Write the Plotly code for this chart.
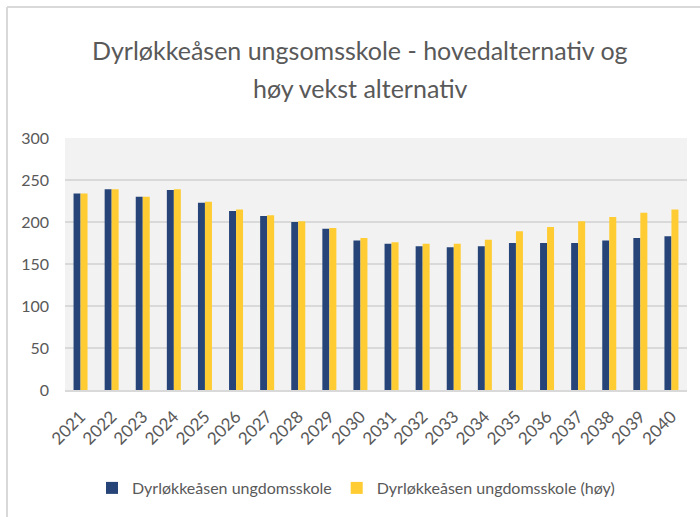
import plotly.graph_objects as go

years = [str(y) for y in range(2021, 2041)]
hoved = [234, 239, 230, 238, 223, 213, 207, 200, 192, 178,
         174, 171, 170, 171, 175, 175, 175, 178, 181, 183]
hoy = [234, 239, 230, 239, 224, 215, 208, 201, 193, 181,
       176, 174, 174, 179, 189, 194, 201, 206, 211, 215]

series_names = ["Dyrløkkeåsen ungdomsskole", "Dyrløkkeåsen ungdomsskole (høy)"]
title_lines = ["Dyrløkkeåsen ungsomsskole - hovedalternativ og", "høy vekst alternativ"]
colors = ["#264478", "#FFCC33"]

font_family = "Lato, 'Open Sans', sans-serif"
grey = "#595959"

W, H = 700, 517
L, R, T, B = 65, 13, 138, 127
PW, PH = W - L - R, H - T - B


def px_x(x):
    return (x - L) / PW


def px_y(y):
    return (H - B - y) / PH


fig = go.Figure()
fig.add_trace(go.Bar(x=years, y=hoved, name=series_names[0],
                     marker=dict(color=colors[0], line=dict(width=0))))
fig.add_trace(go.Bar(x=years, y=hoy, name=series_names[1],
                     marker=dict(color=colors[1], line=dict(width=0))))

fig.update_layout(
    width=W, height=H,
    margin=dict(l=L, r=R, t=T, b=B, autoexpand=False),
    paper_bgcolor="white",
    plot_bgcolor="#F2F2F2",
    barmode="group",
    bargap=0.55,
    bargroupgap=0,
    font=dict(family=font_family, color=grey, size=16),
    legend=dict(orientation="h", x=356 / W, xanchor="center", xref="container",
                y=1 - 488 / H, yanchor="middle", yref="container",
                font=dict(size=16, color=grey), itemclick=False),
    xaxis=dict(tickangle=-45, showgrid=False, showline=True, automargin=False,
               linecolor="#D9D9D9", linewidth=2, ticks="",
               ticklabelstandoff=8,
               tickfont=dict(size=17, color=grey)),
    yaxis=dict(range=[0, 300], dtick=50, showgrid=True, gridcolor="#D9D9D9",
               gridwidth=2, zeroline=False, showline=False, ticks="", automargin=False,
               ticklabelstandoff=15,
               tickfont=dict(size=16, color=grey)),
)

for line, ypx in zip(title_lines, [50, 88]):
    fig.add_annotation(text=line, xref="paper", yref="paper",
                       x=px_x(360), y=px_y(ypx), xanchor="center", yanchor="middle",
                       showarrow=False, font=dict(size=25, color=grey, family=font_family))

# outer frame lines (screenshot border)
fig.add_shape(type="line", xref="paper", yref="paper",
              x0=px_x(7), x1=px_x(705), y0=px_y(7), y1=px_y(7),
              line=dict(color="#D9D9D9", width=2))
fig.add_shape(type="line", xref="paper", yref="paper",
              x0=px_x(7), x1=px_x(7), y0=px_y(7), y1=px_y(520),
              line=dict(color="#D9D9D9", width=2))

fig.write_html("out.html", config={"displayModeBar": False},
               post_script="document.body.style.margin='0';")
